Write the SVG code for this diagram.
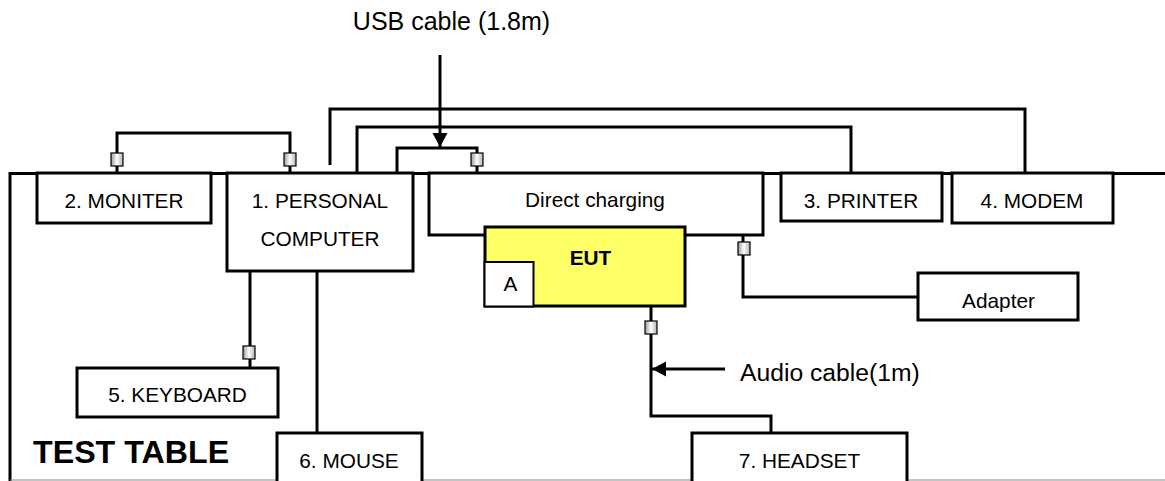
<svg xmlns="http://www.w3.org/2000/svg" width="1165" height="481" viewBox="0 0 1165 481">
<style>
.box{fill:#fff;stroke:#000;stroke-width:3}
.cable{fill:none;stroke:#000;stroke-width:3}
.conn{fill:url(#cg);stroke:#000;stroke-width:1.2}
.lbl{font-family:"Liberation Sans",Arial,sans-serif;font-size:20.8px;text-anchor:middle;fill:#000}
.big{font-family:"Liberation Sans",Arial,sans-serif;font-size:25px;fill:#000}
.bold{font-weight:bold}
</style>
<defs>
<linearGradient id="cg" x1="0" y1="0" x2="1" y2="0">
<stop offset="0" stop-color="#9a9a9a"/><stop offset="0.5" stop-color="#ffffff"/><stop offset="1" stop-color="#b0b0b0"/>
</linearGradient>
<marker id="ah" markerWidth="15" markerHeight="16" refX="14" refY="8" orient="auto" markerUnits="userSpaceOnUse">
<path d="M0,0.5 L14,8 L0,15.5 z" fill="#000"/>
</marker>
</defs>
<g id="table">
<path d="M10,481 V173.5 H1165" class="cable"/>
<line x1="10" y1="480" x2="1165" y2="480" stroke="#888" stroke-width="1"/>
<text x="33" y="463" class="big bold" style="font-size:32.2px">TEST TABLE</text>
</g>
<g id="connectors">
<path class="cable" d="M117,173 V133 H290 V173"/>
<path class="cable" d="M330,165 V109 H1025 V173"/>
<path class="cable" d="M357,173 V127 H851 V173"/>
<path class="cable" d="M397,173 V148 H477 V173"/>
<path class="cable" d="M743,235 V297 H918"/>
<path class="cable" d="M651,306 V416 H771 V433"/>
<path class="cable" d="M250,271 V368"/>
<path class="cable" d="M317,271 V433"/>
<rect class="conn" x="111" y="153" width="12" height="13"/>
<rect class="conn" x="284" y="153" width="12" height="13"/>
<rect class="conn" x="471" y="153" width="12" height="13"/>
<rect class="conn" x="738" y="242" width="12" height="13"/>
<rect class="conn" x="645" y="321" width="12" height="13"/>
<rect class="conn" x="243" y="346" width="12" height="13"/>
<line class="cable" x1="440" y1="55" x2="440" y2="147" marker-end="url(#ah)"/>
<line class="cable" x1="725" y1="369" x2="652" y2="369" marker-end="url(#ah)"/>
<text class="big" x="451.5" y="30" text-anchor="middle">USB cable (1.8m)</text>
<text class="big" x="740" y="381" style="font-size:24.7px">Audio cable(1m)</text>
</g>
<g id="monitor"><rect class="box" x="37" y="173" width="174" height="50"/><text class="lbl" x="124" y="208">2. MONITER</text></g>
<g id="pc"><rect class="box" x="227" y="173" width="186" height="98"/><text class="lbl" x="320" y="208">1. PERSONAL</text><text class="lbl" x="320" y="246">COMPUTER</text></g>
<g id="direct-charging"><rect class="box" x="429" y="173" width="334" height="62"/><text class="lbl" x="595" y="207">Direct charging</text></g>
<g id="eut"><rect class="box" x="485" y="227" width="200" height="79" style="fill:#ffff66"/><text class="lbl bold" x="590.5" y="265">EUT</text></g>
<g id="a"><rect x="484.5" y="262" width="49" height="44.5" fill="#fff" stroke="#000" stroke-width="2"/><text class="lbl" x="510.5" y="291">A</text></g>
<g id="printer"><rect class="box" x="781" y="173" width="161" height="48"/><text class="lbl" x="861" y="208">3. PRINTER</text></g>
<g id="modem"><rect class="box" x="952" y="173" width="161" height="50"/><text class="lbl" x="1032" y="208">4. MODEM</text></g>
<g id="adapter"><rect class="box" x="918" y="273" width="160" height="47"/><text class="lbl" x="998.5" y="308">Adapter</text></g>
<g id="keyboard"><rect class="box" x="77" y="368" width="201" height="49"/><text class="lbl" x="177.5" y="402">5. KEYBOARD</text></g>
<g id="mouse"><rect class="box" x="277" y="433" width="145" height="55"/><text class="lbl" x="349" y="468">6. MOUSE</text></g>
<g id="headset"><rect class="box" x="692" y="433" width="215" height="55"/><text class="lbl" x="799.5" y="468">7. HEADSET</text></g>
</svg>
